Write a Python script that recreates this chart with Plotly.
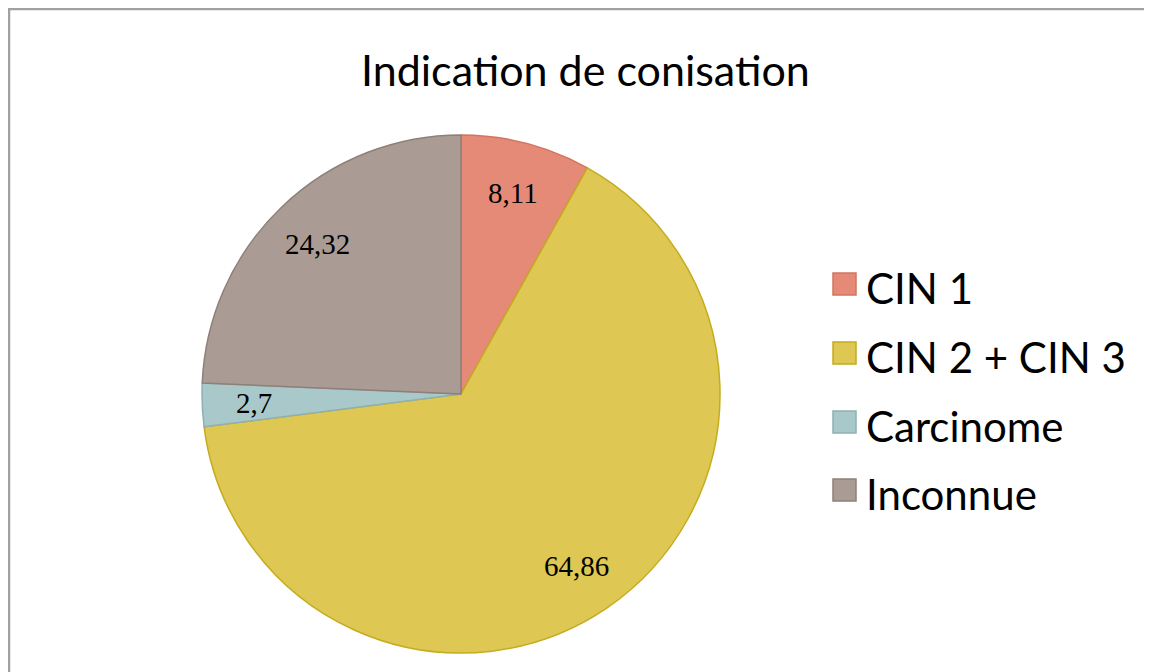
import math
import plotly.graph_objects as go

labels = ["CIN 1", "CIN 2 + CIN 3", "Carcinome", "Inconnue"]
values = [8.11, 64.86, 2.7, 24.32]
value_text = ["8,11", "64,86", "2,7", "24,32"]
colors = ["#E58A76", "#DEC752", "#A9C8C9", "#AA9C94"]
line_colors = ["#D27560", "#C4AC1E", "#8FB0B2", "#8E7F78"]
title_text = "Indication de conisation"

W, H = 1152, 672
cx, cy, R = 453, 386, 259

fig = go.Figure()
fig.add_trace(go.Pie(
    labels=labels,
    values=values,
    sort=False,
    direction="clockwise",
    rotation=0,
    textinfo="none",
    marker=dict(colors=colors, line=dict(color=line_colors, width=1.5)),
    showlegend=False,
    domain=dict(x=[(cx - R) / W, (cx + R) / W], y=[1 - (cy + R) / H, 1 - (cy - R) / H]),
    hoverinfo="label+value",
))

shapes = [dict(type="rect", xref="paper", yref="paper",
               x0=1 / W, x1=1.05, y0=-0.05, y1=1 - 1 / H,
               line=dict(color="#A0A0A0", width=2.5), fillcolor="rgba(0,0,0,0)")]
annotations = [dict(text=title_text, x=577 / W, y=1 - 61 / H, xref="paper", yref="paper",
                    showarrow=False, xanchor="center", yanchor="middle",
                    font=dict(family="Lato", size=43, color="#000000"))]

# data labels placed at the mid-angle of each slice (clockwise from 12 o'clock)
total = sum(values)
cum = 0.0
for v, t in zip(values, value_text):
    mid = (cum + v / 2) / total * 2 * math.pi
    cum += v
    rr = 0.8 * R
    px = cx + rr * math.sin(mid)
    py = cy - rr * math.cos(mid)
    annotations.append(dict(text=t, x=px / W, y=1 - py / H, xref="paper", yref="paper",
                            showarrow=False, xanchor="center", yanchor="middle",
                            font=dict(family="Liberation Serif", size=29, color="#000000")))

leg_x0 = 825
leg_y = [276, 345, 414, 482]
for lab, c, lc, yy in zip(labels, colors, line_colors, leg_y):
    shapes.append(dict(type="rect", xref="paper", yref="paper",
                       x0=leg_x0 / W, x1=(leg_x0 + 23) / W,
                       y0=1 - (yy + 11) / H, y1=1 - (yy - 11) / H,
                       fillcolor=c, line=dict(color=lc, width=1.5)))
    annotations.append(dict(text=lab, x=856 / W, y=1 - (yy + 4) / H, xref="paper", yref="paper",
                            showarrow=False, xanchor="left", yanchor="middle",
                            font=dict(family="Lato", size=42, color="#000000")))

fig.update_layout(
    width=W, height=H,
    margin=dict(l=0, r=0, t=0, b=0),
    paper_bgcolor="#FFFFFF",
    plot_bgcolor="#FFFFFF",
    separators=", ",
    shapes=shapes,
    annotations=annotations,
)

fig.write_html("out.html")
